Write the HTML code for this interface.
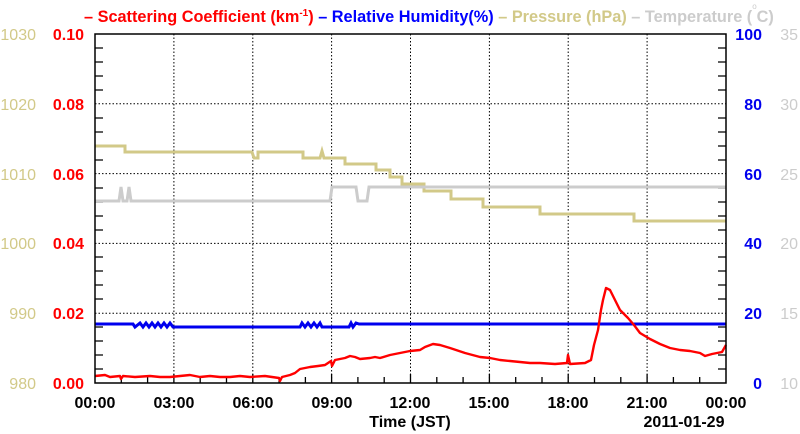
<!DOCTYPE html>
<html><head><meta charset="utf-8"><style>body{margin:0;background:#fff}svg{display:block}</style></head><body>
<svg width="800" height="434" xmlns="http://www.w3.org/2000/svg" font-family="Liberation Sans, sans-serif">
<g font-size="16.3" font-weight="bold">
<text x="84" y="22" fill="#f00">– Scattering Coefficient (km<tspan font-size="10" dy="-6">-1</tspan><tspan dy="6">) </tspan><tspan fill="#00f">– Relative Humidity(%) </tspan><tspan fill="#d2c988">– Pressure (hPa) </tspan><tspan fill="#cccccc">– Temperature (</tspan><tspan fill="#cccccc" font-size="8" dy="-13" font-weight="normal">o</tspan><tspan fill="#cccccc" dy="13">C)</tspan></text>
</g>
<g stroke="#000" stroke-width="1" stroke-dasharray="1.5,2" fill="none">
<line x1="173.9" y1="34" x2="173.9" y2="383"/><line x1="252.8" y1="34" x2="252.8" y2="383"/><line x1="331.6" y1="34" x2="331.6" y2="383"/><line x1="410.5" y1="34" x2="410.5" y2="383"/><line x1="489.4" y1="34" x2="489.4" y2="383"/><line x1="568.2" y1="34" x2="568.2" y2="383"/><line x1="647.1" y1="34" x2="647.1" y2="383"/>
<line x1="95" y1="103.8" x2="726" y2="103.8"/><line x1="95" y1="173.6" x2="726" y2="173.6"/><line x1="95" y1="243.4" x2="726" y2="243.4"/><line x1="95" y1="313.2" x2="726" y2="313.2"/>
</g>
<g stroke="#000" stroke-width="1.3">
<path d="M95,48h8M95,62h8M95,76h8M95,90h8M95,118h8M95,132h8M95,146h8M95,160h8M95,188h8M95,202h8M95,216h8M95,230h8M95,257h8M95,271h8M95,285h8M95,299h8M95,327h8M95,341h8M95,355h8M95,369h8"/>
<path d="M726,48h-8M726,62h-8M726,76h-8M726,90h-8M726,118h-8M726,132h-8M726,146h-8M726,160h-8M726,188h-8M726,202h-8M726,216h-8M726,230h-8M726,257h-8M726,271h-8M726,285h-8M726,299h-8M726,327h-8M726,341h-8M726,355h-8M726,369h-8"/>
<path d="M121.3,383v-6M147.6,383v-6M200.2,383v-6M226.5,383v-6M279.1,383v-6M305.4,383v-6M357.9,383v-6M384.2,383v-6M436.8,383v-6M463.1,383v-6M515.7,383v-6M542,383v-6M594.5,383v-6M620.8,383v-6M673.4,383v-6M699.7,383v-6"/>
<path d="M173.9,383v-9M252.8,383v-9M331.6,383v-9M410.5,383v-9M489.4,383v-9M568.2,383v-9M647.1,383v-9"/>
</g>
<polyline fill="none" stroke="#d2c988" stroke-width="3" points="95,146 125,146 125,152 252,152 254,158 258,158 258,152 303,152 303,158 320,158 322,151 324,158 345,158 345,164 376,164 376,170 390,170 390,177 402,177 402,184 424,184 424,191 451,191 451,199 483,199 483,207 540,207 540,214 634,214 634,221 726,221"/>
<polyline fill="none" stroke="#cccccc" stroke-width="3" points="95,201 119,201 121,187 123,201 127,201 129,187 131,201 330,201 332,187 356,187 358,201 367,201 369,187 726,187"/>
<polyline fill="none" stroke="#0000ee" stroke-width="3" points="95,324 133,324 135,327 140,323 143,327 146,323 149,327 152,323 155,327 158,323 161,327 164,323 167,327 170,323 173,327 300,327 302,323 305,327 308,323 311,327 314,323 317,327 320,323 322,327 349,327 351,323 353,327 356,323 359,324 726,324"/>
<polyline fill="none" stroke="#f00" stroke-width="2.4" stroke-linejoin="round" points="95,376 105,375 110,377 120,376 121,379 123,376 135,377 150,376 160,377 170,377 180,376 190,375 200,377 210,376 220,377 230,377 240,376 250,377 265,376 272,377 279,378 280,381 282,377 290,375 295,373 300,369 310,367 318,366 325,365 331,361 332,366 335,360 345,358 350,356 355,357 360,359 370,358 375,357 380,358 390,355 400,353 410,351 420,350 425,347 433,344 440,345 450,348 465,353 480,357 490,358 500,360 510,361 520,362 530,363 540,363 555,364 567,363 568,355 570,364 585,363 591,360 594,345 598,330 601,310 603,300 606,288 610,290 614,298 620,310 628,318 634,325 640,333 650,339 660,344 670,348 680,350 690,351 700,353 705,356 712,354 722,352 726,345"/>
<rect x="95" y="34" width="631" height="349" fill="none" stroke="#000" stroke-width="1.5"/>
<g font-size="16" font-weight="bold" fill="#f00" text-anchor="end">
<text x="84" y="40">0.10</text><text x="84" y="110">0.08</text><text x="84" y="180">0.06</text><text x="84" y="249">0.04</text><text x="84" y="319">0.02</text><text x="84" y="389">0.00</text>
</g>
<g font-size="16" fill="#d2c988" text-anchor="end">
<text x="36" y="40">1030</text><text x="36" y="110">1020</text><text x="36" y="180">1010</text><text x="36" y="249">1000</text><text x="36" y="319">990</text><text x="36" y="389">980</text>
</g>
<g font-size="16" font-weight="bold" fill="#0000ee" text-anchor="end">
<text x="762" y="40">100</text><text x="762" y="110">80</text><text x="762" y="180">60</text><text x="762" y="249">40</text><text x="762" y="319">20</text><text x="762" y="389">0</text>
</g>
<g font-size="16" fill="#cccccc" text-anchor="end">
<text x="798" y="40">35</text><text x="798" y="110">30</text><text x="798" y="180">25</text><text x="798" y="249">20</text><text x="798" y="319">15</text><text x="798" y="389">10</text>
</g>
<g font-size="16" font-weight="bold" fill="#000" text-anchor="middle">
<text x="95" y="408">00:00</text><text x="174" y="408">03:00</text><text x="253" y="408">06:00</text><text x="332" y="408">09:00</text><text x="410" y="408">12:00</text><text x="489" y="408">15:00</text><text x="568" y="408">18:00</text><text x="647" y="408">21:00</text><text x="726" y="408">00:00</text>
<text x="410" y="427">Time (JST)</text><text x="684" y="427">2011-01-29</text>
</g>
</svg>
</body></html>
